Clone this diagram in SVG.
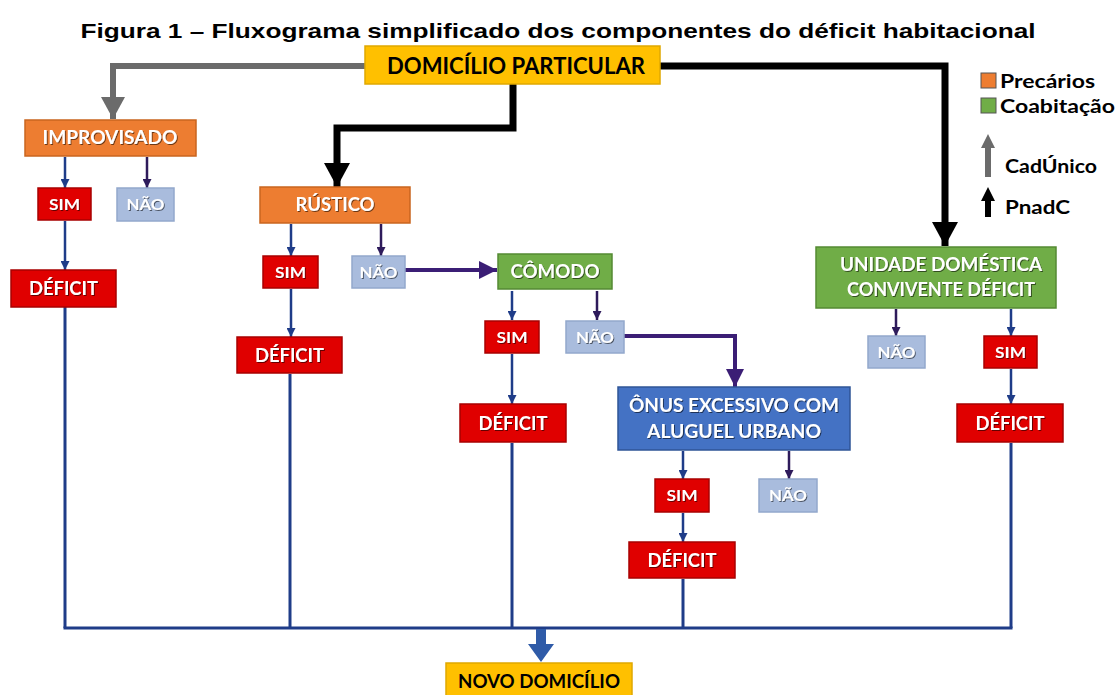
<svg xmlns="http://www.w3.org/2000/svg" width="1117" height="695" viewBox="0 0 1117 695">
<style>
.t{font-family:Lato,"Open Sans","Liberation Sans",sans-serif;font-weight:bold;text-anchor:middle}
.w{fill:#fff;filter:url(#sh)}
.k{fill:#000}
.yel{fill:#FFC000;stroke:#E0A800;stroke-width:1.5}
.ora{fill:#ED7D31;stroke:#C9651F;stroke-width:1.5}
.grn{fill:#70AD47;stroke:#548A33;stroke-width:1.5}
.blu{fill:#4472C4;stroke:#2F5597;stroke-width:1.5}
.red{fill:#E00000;stroke:#A80000;stroke-width:1.5}
.nao{fill:#A9BCDD;stroke:#93A8CC;stroke-width:1.5}
.sn{stroke:#1F3C88;stroke-width:2.5;fill:none;marker-end:url(#mn)}
.sp{stroke:#2E1B5B;stroke-width:2.5;fill:none;marker-end:url(#mp)}
.ln{stroke:#1F3C88;stroke-width:3;fill:none}
.leg{font-family:Lato,"Open Sans","Liberation Sans",sans-serif;font-weight:bold;fill:#000}
.s{font-size:16px}
</style>
<defs>
<filter id="sh" x="-10%" y="-20%" width="130%" height="150%">
<feDropShadow dx="1" dy="1" stdDeviation="0.6" flood-color="#000" flood-opacity="0.55"/>
</filter>
<marker id="mn" markerUnits="userSpaceOnUse" markerWidth="9" markerHeight="9" refX="9" refY="4.5" orient="auto"><path d="M0,0 L9,4.5 L0,9 z" fill="#1F3C88"/></marker>
<marker id="mp" markerUnits="userSpaceOnUse" markerWidth="9" markerHeight="9" refX="9" refY="4.5" orient="auto"><path d="M0,0 L9,4.5 L0,9 z" fill="#2E1B5B"/></marker>
<marker id="mpb" markerUnits="userSpaceOnUse" markerWidth="18" markerHeight="18" refX="18" refY="9" orient="auto"><path d="M0,0 L18,9 L0,18 z" fill="#3B1E75"/></marker>
<marker id="mk" markerUnits="userSpaceOnUse" markerWidth="24" markerHeight="26" refX="24" refY="13" orient="auto"><path d="M0,0 L24,13 L0,26 z" fill="#000"/></marker>
<marker id="mg" markerUnits="userSpaceOnUse" markerWidth="22" markerHeight="24" refX="22" refY="12" orient="auto"><path d="M0,0 L22,12 L0,24 z" fill="#6B6B6B"/></marker>
</defs>
<rect width="1117" height="695" fill="#fff"/>
<text x="558" y="38" font-family="'Liberation Sans',Arial,sans-serif" font-weight="bold" font-size="21" text-anchor="middle" fill="#000" textLength="955" lengthAdjust="spacingAndGlyphs">Figura 1 – Fluxograma simplificado dos componentes do déficit habitacional</text>

<g id="connectors">
<path d="M365,66 H113 V119" stroke="#6B6B6B" stroke-width="6" fill="none" marker-end="url(#mg)"/>
<path d="M513,84 V128 H337 V187" stroke="#000" stroke-width="7" fill="none" marker-end="url(#mk)"/>
<path d="M660,66 H945 V246" stroke="#000" stroke-width="7" fill="none" marker-end="url(#mk)"/>
<path d="M405,270 H497" stroke="#3B1E75" stroke-width="4" fill="none" marker-end="url(#mpb)"/>
<path d="M624,336 H735 V387" stroke="#3B1E75" stroke-width="4" fill="none" marker-end="url(#mpb)"/>
<path class="sn" d="M65,157 V188"/>
<path class="sp" d="M147,157 V188"/>
<path class="sn" d="M65,221 V270"/>
<path class="sn" d="M291,224 V256"/>
<path class="sp" d="M381,224 V256"/>
<path class="sn" d="M291,289 V337"/>
<path class="sn" d="M512,291 V320"/>
<path class="sp" d="M597,291 V320"/>
<path class="sn" d="M512,354 V404"/>
<path class="sn" d="M683,451 V479"/>
<path class="sp" d="M789,451 V479"/>
<path class="sn" d="M683,513 V542"/>
<path class="sp" d="M896,309 V336"/>
<path class="sn" d="M1011,309 V336"/>
<path class="sn" d="M1011,369 V404"/>
<path class="ln" d="M65,307 V628"/>
<path class="ln" d="M290,374 V628"/>
<path class="ln" d="M512,443 V628"/>
<path class="ln" d="M683,579 V628"/>
<path class="ln" d="M1011,443 V628"/>
<path class="ln" d="M63.5,628 H1012.5"/>
<polygon points="536,629 546,629 546,644 554,644 541,662 528,644 536,644" fill="#2F5BA8"/>
</g>

<g id="domicilio-particular"><rect class="yel" x="365" y="46" width="295" height="38"/><text class="t k" x="516" y="74" font-size="22" textLength="258" lengthAdjust="spacingAndGlyphs">DOMICÍLIO PARTICULAR</text></g>

<g id="improvisado"><rect class="ora" x="25" y="120" width="171" height="36"/><text class="t w" x="110" y="144" font-size="19" textLength="135" lengthAdjust="spacingAndGlyphs">IMPROVISADO</text></g>
<g id="improvisado-sim"><rect class="red" x="38" y="188" width="53" height="32"/><text class="t w s" x="64.5" y="210" textLength="31" lengthAdjust="spacingAndGlyphs">SIM</text></g>
<g id="improvisado-nao"><rect class="nao" x="117" y="188" width="57" height="33"/><text class="t w s" x="145.5" y="210" textLength="38" lengthAdjust="spacingAndGlyphs">NÃO</text></g>
<g id="improvisado-deficit"><rect class="red" x="11" y="270" width="105" height="37"/><text class="t w" x="63.5" y="295" font-size="19" textLength="69" lengthAdjust="spacingAndGlyphs">DÉFICIT</text></g>

<g id="rustico"><rect class="ora" x="260" y="187" width="150" height="36"/><text class="t w" x="335" y="211" font-size="19" textLength="79" lengthAdjust="spacingAndGlyphs">RÚSTICO</text></g>
<g id="rustico-sim"><rect class="red" x="263" y="256" width="55" height="32"/><text class="t w s" x="290.5" y="278" textLength="31" lengthAdjust="spacingAndGlyphs">SIM</text></g>
<g id="rustico-nao"><rect class="nao" x="352" y="256" width="53" height="32"/><text class="t w s" x="378.5" y="278" textLength="38" lengthAdjust="spacingAndGlyphs">NÃO</text></g>
<g id="rustico-deficit"><rect class="red" x="237" y="337" width="105" height="36"/><text class="t w" x="289.5" y="362" font-size="19" textLength="69" lengthAdjust="spacingAndGlyphs">DÉFICIT</text></g>

<g id="comodo"><rect class="grn" x="498" y="254" width="114" height="35"/><text class="t w" x="555" y="278" font-size="19" textLength="89" lengthAdjust="spacingAndGlyphs">CÔMODO</text></g>
<g id="comodo-sim"><rect class="red" x="485" y="321" width="54" height="32"/><text class="t w s" x="512" y="343" textLength="31" lengthAdjust="spacingAndGlyphs">SIM</text></g>
<g id="comodo-nao"><rect class="nao" x="566" y="321" width="58" height="32"/><text class="t w s" x="595" y="343" textLength="38" lengthAdjust="spacingAndGlyphs">NÃO</text></g>
<g id="comodo-deficit"><rect class="red" x="460" y="404" width="106" height="38"/><text class="t w" x="513" y="430" font-size="19" textLength="69" lengthAdjust="spacingAndGlyphs">DÉFICIT</text></g>

<g id="onus"><rect class="blu" x="618" y="387" width="232" height="63"/><text class="t w" x="734" y="412" font-size="19" textLength="210" lengthAdjust="spacingAndGlyphs">ÔNUS EXCESSIVO COM</text><text class="t w" x="734" y="438" font-size="19" textLength="174" lengthAdjust="spacingAndGlyphs">ALUGUEL URBANO</text></g>
<g id="onus-sim"><rect class="red" x="655" y="479" width="54" height="33"/><text class="t w s" x="682" y="501" textLength="31" lengthAdjust="spacingAndGlyphs">SIM</text></g>
<g id="onus-nao"><rect class="nao" x="759" y="479" width="58" height="33"/><text class="t w s" x="788" y="501" textLength="38" lengthAdjust="spacingAndGlyphs">NÃO</text></g>
<g id="onus-deficit"><rect class="red" x="629" y="542" width="106" height="36"/><text class="t w" x="682" y="567" font-size="19" textLength="69" lengthAdjust="spacingAndGlyphs">DÉFICIT</text></g>

<g id="unidade"><rect class="grn" x="816" y="247" width="240" height="61"/><text class="t w" x="941" y="271" font-size="19" textLength="202" lengthAdjust="spacingAndGlyphs">UNIDADE DOMÉSTICA</text><text class="t w" x="941" y="296" font-size="19" textLength="188" lengthAdjust="spacingAndGlyphs">CONVIVENTE DÉFICIT</text></g>
<g id="unidade-nao"><rect class="nao" x="868" y="336" width="57" height="32"/><text class="t w s" x="896.5" y="358" textLength="38" lengthAdjust="spacingAndGlyphs">NÃO</text></g>
<g id="unidade-sim"><rect class="red" x="984" y="336" width="53" height="32"/><text class="t w s" x="1010.5" y="358" textLength="31" lengthAdjust="spacingAndGlyphs">SIM</text></g>
<g id="unidade-deficit"><rect class="red" x="957" y="404" width="106" height="38"/><text class="t w" x="1010" y="430" font-size="19" textLength="69" lengthAdjust="spacingAndGlyphs">DÉFICIT</text></g>

<g id="novo-domicilio"><rect class="yel" x="446" y="663" width="186" height="34"/><text class="t k" x="539" y="688" font-size="19" textLength="162" lengthAdjust="spacingAndGlyphs">NOVO DOMICÍLIO</text></g>

<g id="legend">
<rect x="981" y="73" width="15" height="15" fill="#ED7D31" stroke="#555" stroke-width="1"/>
<text class="leg" x="1000" y="88" font-size="19" textLength="95" lengthAdjust="spacingAndGlyphs">Precários</text>
<rect x="981" y="98" width="15" height="15" fill="#70AD47" stroke="#555" stroke-width="1"/>
<text class="leg" x="1000" y="113" font-size="19" textLength="115" lengthAdjust="spacingAndGlyphs">Coabitação</text>
<polygon points="988,134 995,148 991,148 991,177 985,177 985,148 981,148" fill="#6B6B6B"/>
<text class="leg" x="1005" y="173" font-size="19" textLength="92" lengthAdjust="spacingAndGlyphs">CadÚnico</text>
<polygon points="988,187 995,201 991,201 991,217 985,217 985,201 981,201" fill="#000"/>
<text class="leg" x="1005" y="214" font-size="19" textLength="65" lengthAdjust="spacingAndGlyphs">PnadC</text>
</g>
</svg>
